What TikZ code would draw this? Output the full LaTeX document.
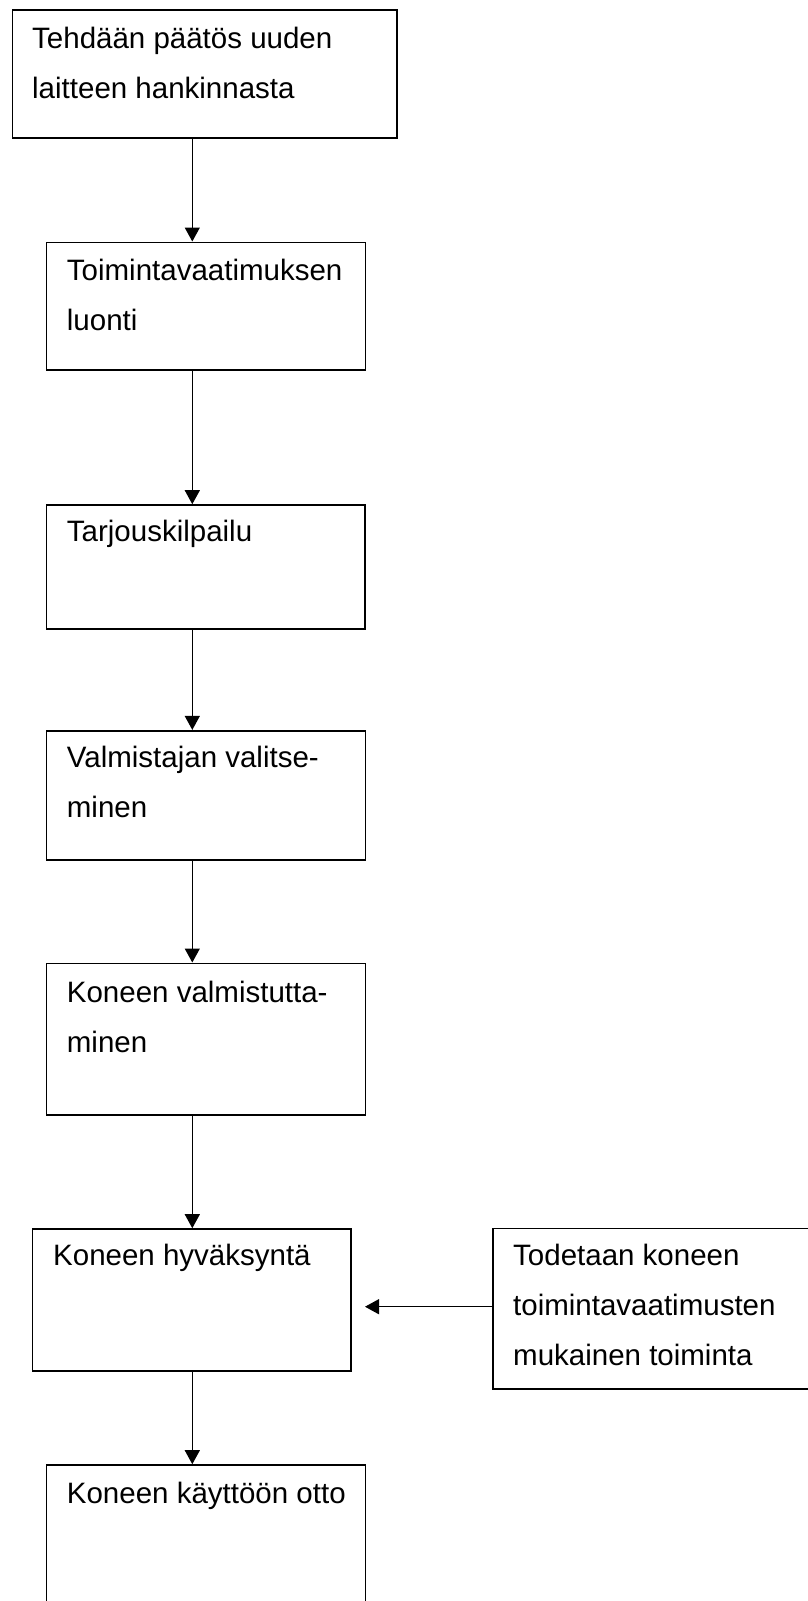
\documentclass[tikz,border=0pt]{standalone}
\usepackage{fontspec}
\setmainfont{Liberation Sans}
\usetikzlibrary{arrows.meta}
\tikzset{
  box/.style={draw=black, line width=1.6pt, rectangle, inner sep=0pt, fill=white},
  txt/.style={anchor=base west, inner sep=0pt},
  arr/.style={draw=black, line width=1.3pt, -{Triangle[length=14pt,width=15pt]}}
}
\newcommand{\boxtext}[1]{\parbox[t]{12cm}{\fontsize{29.5pt}{50pt}\selectfont\raggedright #1}}
\begin{document}
\begin{tikzpicture}[x=1pt,y=-1pt]
\useasboundingbox (0,0) rectangle (808,1601);
\clip (0,0) rectangle (808,1601);
\fill[white] (0,0) rectangle (808,1601);
\coordinate (ax) at (192.3,0);
% boxes
\node[box, minimum width=384.4pt, minimum height=128pt] (b1) at (204.5,74) {};
\node[box, minimum width=319pt, minimum height=127.7pt] (b2) at (205.8,306.15) {};
\node[box, minimum width=318.7pt, minimum height=124pt] (b3) at (205.65,567) {};
\node[box, minimum width=319pt, minimum height=129.3pt] (b4) at (205.8,795.35) {};
\node[box, minimum width=319pt, minimum height=151.7pt] (b5) at (205.8,1039.15) {};
\node[box, minimum width=318.5pt, minimum height=141.7pt] (b6) at (191.75,1299.85) {};
\node[box, minimum width=337pt, minimum height=160.7pt] (b7) at (661.5,1308.65) {};
\node[box, minimum width=319pt, minimum height=175pt] (b8) at (205.8,1552.5) {};
% texts
\node[txt] (t1) at (32,48) {\boxtext{Tehdään päätös uuden\\laitteen hankinnasta}};
\node[txt] (t2) at (66.7,280) {\boxtext{Toimintavaatimuksen\\luonti}};
\node[txt] (t3) at (66.7,541.7) {\boxtext{Tarjouskilpailu}};
\node[txt] (t4) at (66.7,767.7) {\boxtext{Valmistajan valitse-\\minen}};
\node[txt] (t5) at (66.7,1002.7) {\boxtext{Koneen valmistutta-\\minen}};
\node[txt] (t6) at (53,1265) {\boxtext{Koneen hyväksyntä}};
\node[txt] (t7) at (513,1265) {\boxtext{Todetaan koneen\\toimintavaatimusten\\mukainen toiminta}};
\node[txt] (t8) at (66.7,1503) {\boxtext{Koneen käyttöön otto}};
% connectors
\draw[arr] (b1.south -| ax) -- (b2.north -| ax);
\draw[arr] (b2.south -| ax) -- (b3.north -| ax);
\draw[arr] (b3.south -| ax) -- (b4.north -| ax);
\draw[arr] (b4.south -| ax) -- (b5.north -| ax);
\draw[arr] (b5.south -| ax) -- (b6.north -| ax);
\draw[arr] (b6.south -| ax) -- (b8.north -| ax);
\coordinate (tip) at (365,1306.7);
\draw[arr] (b7.west |- tip) -- (tip);
\end{tikzpicture}
\end{document}
